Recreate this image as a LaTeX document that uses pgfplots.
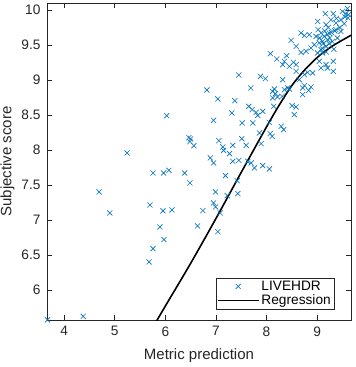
\documentclass[border=0pt]{standalone}
\usepackage{fontspec}
\setmainfont{Liberation Sans}
\usepackage{pgfplots}
\pgfplotsset{compat=1.18}
\definecolor{mblue}{rgb}{0,0.447,0.741}
\definecolor{axgray}{rgb}{0.15,0.15,0.15}
\pgfplotsset{
  marklegend/.style={legend image code/.code={\draw[##1, mark repeat=2, mark phase=2] plot coordinates {(0pt,0pt) (20.5pt,0pt) (41pt,0pt)};}},
  linelegend/.style={legend image code/.code={\draw[##1] (0pt,0pt) -- (41pt,0pt);}},
}
\begin{document}
\begin{tikzpicture}
\begin{axis}[
  name=ax,
  scale only axis, width=304pt, height=317pt,
  xmin=3.66, xmax=9.67, ymin=5.57, ymax=10.1,
  xtick={4,5,6,7,8,9},
  ytick={6,6.5,7,7.5,8,8.5,9,9.5,10},
  tick align=inside,
  major tick length=5pt,
  axis line style={axgray, line width=0.6pt},
  every tick/.style={axgray, line width=0.6pt},
  tick label style={font=\fontsize{13.7}{16}\selectfont, text=axgray},
  xticklabel style={yshift=-3pt},
  yticklabel style={xshift=-3pt},
  label style={font=\fontsize{15}{18}\selectfont, text=axgray},
  xlabel style={yshift=-6pt},
  /pgf/number format/assume math mode=true,
  xlabel={Metric prediction},
  ylabel={Subjective score},
  legend style={at={(0.944,0.033)}, anchor=south east, draw=axgray,
    font=\fontsize{13.7}{16}\selectfont, inner sep=1pt, row sep=-1pt,
    cells={anchor=west}},
  clip=true,
]
\addplot[only marks, mark=x, mark size=3.6pt, color=mblue, line width=0.6pt, marklegend]
coordinates {
(5.243,7.957) (5.755,7.671) (5.966,7.671) (6.071,7.709) (6.381,7.671)
(6.485,7.529) (4.690,7.400) (4.901,7.100) (5.696,7.214) (5.953,7.129)
(6.130,7.143) (5.893,6.900) (6.637,6.914) (5.972,6.719) (5.755,6.590)
(5.677,6.400) (3.67,5.572) (4.375,5.623) (6.026,8.490) (6.465,8.176)
(6.485,8.119) (6.564,8.061)
(9.162,9.947) (9.320,9.947) (9.570,9.947) (9.62,9.933) (9.010,9.837)
(9.176,9.790) (9.274,9.861) (9.373,9.814) (9.471,9.861) (9.536,9.804)
(9.61,9.886) (9.373,9.719) (9.471,9.694) (8.682,9.671) (8.748,9.633)
(8.846,9.647) (8.978,9.623) (9.077,9.671) (9.142,9.623) (9.241,9.671)
(9.207,9.576) (9.108,9.551) (9.043,9.529) (8.485,9.566) (8.584,9.480)
(8.781,9.409) (8.880,9.457) (8.945,9.504) (9.077,9.433) (9.176,9.480)
(9.108,9.386) (9.010,9.386) (8.077,9.376) (8.201,9.300) (8.353,9.266)
(8.398,9.347) (8.531,9.251) (8.584,9.219) (8.320,9.219) (8.452,9.194)
(9.043,9.266) (9.176,9.219) (9.320,9.266) (9.077,9.171) (9.207,9.171)
(9.320,9.123) (8.911,9.100) (8.813,9.109) (8.584,9.123) (7.452,9.071)
(7.880,9.051) (7.978,9.019) (8.320,9.004) (8.649,9.004) (8.748,8.919)
(8.714,8.886) (8.880,8.900) (8.832,8.851) (8.714,8.790) (8.418,8.886)
(8.452,8.871) (8.156,8.871) (8.176,8.804) (8.122,8.743) (8.215,8.757)
(8.308,8.766) (6.821,8.857) (7.688,8.886) (7.037,8.729) (7.373,8.704)
(7.649,8.623) (7.716,8.576) (7.795,8.537) (7.826,8.494) (7.925,8.551)
(8.142,8.623) (8.505,8.633) (8.584,8.614) (8.550,8.504) (7.314,8.529)
(6.953,8.423) (7.519,8.386) (7.728,8.386) (8.057,8.394) (8.288,8.337)
(8.339,8.290) (7.860,8.243) (8.071,8.233) (8.110,8.194) (6.499,8.157)
(7.057,8.133) (7.136,8.043) (7.333,8.066) (7.511,8.161) (7.598,8.066)
(7.893,8.090) (7.150,7.994) (7.268,7.947) (6.888,7.886) (6.953,7.814)
(7.333,7.837) (7.452,7.851) (7.696,7.814) (7.761,7.743) (7.925,7.776)
(8.057,7.729) (7.629,7.837) (7.189,7.633) (7.420,7.561) (6.992,7.400)
(7.223,7.347) (7.432,7.376) (6.953,7.243) (6.992,7.186) (7.085,7.100)
(6.742,7.133) (7.037,6.833)
(8.682,9.394) (8.122,8.837) (8.353,8.861) (8.748,9.076)
(9.15,9.70) (9.20,9.65) (9.25,9.60) (9.30,9.55) (9.10,9.45)
(9.18,9.40) (9.35,9.70) (9.40,9.60) (9.05,9.60) (9.22,9.75)
(9.45,9.75) (9.55,9.90) (9.60,10.02) (9.50,9.98) (9.28,9.68)
(9.12,9.52) (9.24,9.52) (9.38,9.88) (9.02,9.72) (9.33,9.44)
};
\addlegendentry{LIVEHDR}
\addplot[smooth, black, line width=1.6pt, linelegend]
coordinates {
(5.70,5.40) (6.00,5.77) (6.50,6.38) (7.00,7.02) (7.50,7.68)
(8.00,8.33) (8.25,8.64) (8.50,8.92) (8.75,9.14) (9.00,9.32)
(9.25,9.46) (9.50,9.57) (9.70,9.65)
};
\addlegendentry{Regression}
\end{axis}
\pgfresetboundingbox
\path ([xshift=-47pt,yshift=-47pt]ax.south west) rectangle ([xshift=4pt,yshift=3pt]ax.north east);
\end{tikzpicture}
\end{document}
